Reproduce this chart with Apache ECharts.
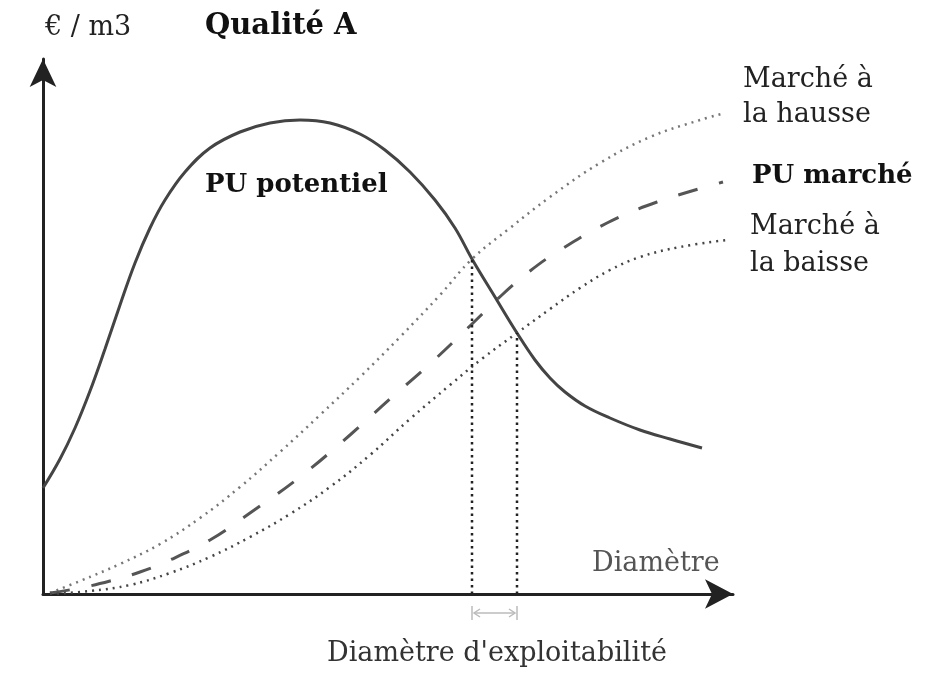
<!DOCTYPE html>
<html>
<head>
<meta charset="utf-8">
<script src="https://cdn.jsdelivr.net/npm/echarts@6/dist/echarts.min.js"></script>
<style>
  html, body { margin: 0; padding: 0; background: #fff; }
  #chart { width: 939px; height: 679px; }
</style>
</head>
<body>
<div id="chart"></div>
<script>
// valeurs : [diamètre, €/m3] (unités arbitraires)
const puPotentiel = [
  [0, 21.2], [1.7, 27.0], [3.2, 33.2], [4.7, 40.6], [6.2, 49.0], [7.7, 57.8],
  [9.2, 66.2], [10.7, 73.2], [12.2, 78.8], [14.2, 84.4], [16.7, 89.2], [19.7, 92.4],
  [22.7, 94.2], [25.7, 94.8], [28.7, 94.2], [31.7, 92.0], [34.2, 88.8], [36.7, 84.4],
  [39.2, 78.8], [41.2, 73.2], [42.9, 67.0], [45.2, 59.4], [47.4, 52.2], [49.2, 46.8],
  [50.7, 43.2], [52.2, 40.4], [54.2, 37.6], [56.7, 35.2], [59.7, 32.8], [62.7, 31.0], [65.9, 29.2]
];
const marcheHausse = [
  [0.7, 0.2], [3.7, 2.6], [7.7, 6.0], [11.7, 10.0], [15.7, 15.2], [19.7, 21.4],
  [23.7, 28.4], [27.7, 35.8], [31.7, 43.4], [35.7, 51.4], [39.7, 59.8], [42.9, 67.0],
  [46.7, 73.2], [50.7, 79.4], [55.7, 86.2], [60.7, 91.4], [65.7, 94.8], [68.2, 96.2]
];
const puMarche = [
  [0.7, 0.2], [3.7, 1.2], [6.7, 2.6], [9.7, 4.4], [12.7, 6.8], [16.7, 10.8],
  [20.7, 16.2], [25.7, 23.4], [30.7, 31.8], [34.7, 39.0], [38.9, 46.4], [42.9, 54.0],
  [46.0, 60.0], [48.7, 64.6], [51.4, 68.4], [56.4, 74.2], [61.4, 78.4], [68.0, 82.4]
];
const marcheBaisse = [
  [0.7, 0], [4.7, 0.6], [8.7, 1.8], [12.7, 4.2], [16.7, 7.4], [20.7, 11.4],
  [24.7, 16.0], [28.7, 21.4], [32.7, 27.8], [36.7, 35.0], [40.7, 41.8], [44.0, 47.2],
  [47.4, 52.2], [50.7, 57.0], [53.7, 61.2], [56.7, 64.8], [59.7, 67.4], [63.7, 69.4], [68.4, 70.8]
];
// diamètres d'exploitabilité (intersections avec PU potentiel)
const exploitDiam = [42.9, 47.4];
const exploitPrix = [67.0, 52.2];

const chart = echarts.init(document.getElementById('chart'));

function lineSeries(name, data, color, width, type) {
  return {
    name: name,
    type: 'line',
    data: data,
    smooth: 0.4,
    symbol: 'none',
    silent: true,
    lineStyle: { color: color, width: width, type: type }
  };
}

const guides = exploitDiam.map((d, i) => ({
  name: 'guide' + i,
  type: 'line',
  data: [[d, 0], [d, exploitPrix[i]]],
  symbol: 'none',
  silent: true,
  lineStyle: { color: '#222', width: 2.5, type: [2.5, 4] }
}));

let option = {
  backgroundColor: '#fff',
  animation: false,
  grid: { left: 43, top: 59, width: 690, height: 535 },
  xAxis: {
    type: 'value', min: 0, max: 69,
    axisLine: { show: true, symbol: ['none', 'arrow'], symbolSize: [22, 28],
      lineStyle: { color: '#222', width: 3 } },
    axisTick: { show: false }, axisLabel: { show: false }, splitLine: { show: false }
  },
  yAxis: {
    type: 'value', min: 0, max: 107,
    axisLine: { show: true, symbol: ['none', 'arrow'], symbolSize: [20, 28],
      lineStyle: { color: '#222', width: 3 } },
    axisTick: { show: false }, axisLabel: { show: false }, splitLine: { show: false }
  },
  series: [
    lineSeries('Marché à la hausse', marcheHausse, '#777', 2.5, [2, 5]),
    lineSeries('PU marché', puMarche, '#555', 3, [20, 22]),
    lineSeries('Marché à la baisse', marcheBaisse, '#444', 2.5, [2, 5]),
    lineSeries('PU potentiel', puPotentiel, '#444', 3, 'solid')
  ].concat(guides)
};
chart.setOption(option);

// petite flèche |<-->| sous l'axe, entre les deux diamètres
const p1 = chart.convertToPixel({ gridIndex: 0 }, [exploitDiam[0], 0]);
const p2 = chart.convertToPixel({ gridIndex: 0 }, [exploitDiam[1], 0]);
const ay = p1[1] + 19;
const grey = { stroke: '#bbb', lineWidth: 1.5, fill: 'none' };
const font = (size, bold) => (bold ? 'bold ' : '') + size + 'px "DejaVu Serif"';

chart.setOption({
  graphic: [
    { type: 'text', left: 45, top: 14, style: { text: '€ / m3', font: font(27), fill: '#222' } },
    { type: 'text', left: 205, top: 12, style: { text: 'Qualité A', font: font(29, true), fill: '#111' } },
    { type: 'text', left: 205, top: 172, style: { text: 'PU potentiel', font: font(26, true), fill: '#111' } },
    { type: 'text', left: 743, top: 62, style: { text: 'Marché à\nla hausse', font: font(27), lineHeight: 35, fill: '#222' } },
    { type: 'text', left: 752, top: 163, style: { text: 'PU marché', font: font(26, true), fill: '#111' } },
    { type: 'text', left: 750, top: 208, style: { text: 'Marché à\nla baisse', font: font(27), lineHeight: 37, fill: '#222' } },
    { type: 'text', left: 592, top: 550, style: { text: 'Diamètre', font: font(27), fill: '#555' } },
    { type: 'text', left: 327, top: 640, style: { text: "Diamètre d'exploitabilité", font: font(27), fill: '#333' } },
    { type: 'line', shape: { x1: p1[0], y1: ay - 7, x2: p1[0], y2: ay + 7 }, style: grey },
    { type: 'line', shape: { x1: p2[0], y1: ay - 7, x2: p2[0], y2: ay + 7 }, style: grey },
    { type: 'line', shape: { x1: p1[0] + 2, y1: ay, x2: p2[0] - 2, y2: ay }, style: grey },
    { type: 'polyline', shape: { points: [[p1[0] + 8, ay - 4], [p1[0] + 2, ay], [p1[0] + 8, ay + 4]] }, style: grey },
    { type: 'polyline', shape: { points: [[p2[0] - 8, ay - 4], [p2[0] - 2, ay], [p2[0] - 8, ay + 4]] }, style: grey }
  ]
});
</script>
</body>
</html>
